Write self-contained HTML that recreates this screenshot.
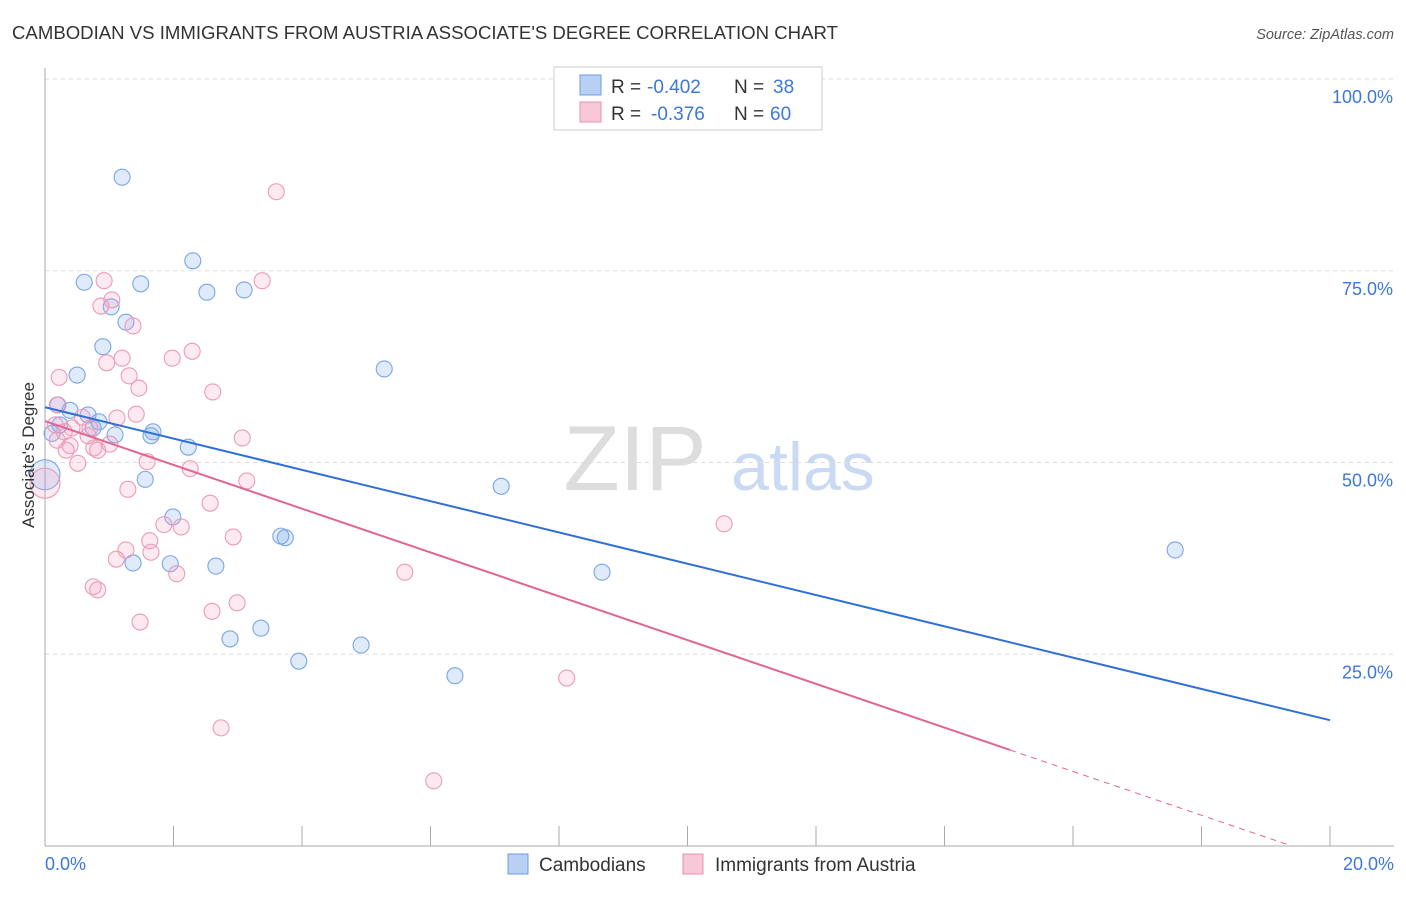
<!DOCTYPE html>
<html><head><meta charset="utf-8">
<style>
body{margin:0;background:#fff;font-family:"Liberation Sans",sans-serif;}
svg text{font-family:"Liberation Sans",sans-serif;}
</style></head>
<body>
<svg id="chart" width="1406" height="892">
<text x="12" y="39" font-size="18.6" fill="#333">CAMBODIAN VS IMMIGRANTS FROM AUSTRIA ASSOCIATE'S DEGREE CORRELATION CHART</text>
<text x="1394" y="39" font-size="14.5" fill="#555" font-style="italic" text-anchor="end">Source: ZipAtlas.com</text>
<text x="635" y="490" font-size="92" fill="#ddd" font-family="Liberation Serif" text-anchor="middle">ZIP</text>
<text x="803" y="490" font-size="68" fill="#c9daf2" text-anchor="middle">atlas</text>
<g id="grid"></g>
<g id="axes"></g>
<g id="marks"></g>
<text transform="translate(34,455) rotate(-90)" font-size="17" fill="#333" text-anchor="middle">Associate's Degree</text>
<g>
<rect x="554" y="67" width="268" height="63" fill="#fff" stroke="#ccc"/>
<rect x="580" y="75" width="21" height="20" fill="#b7d0f3" stroke="#6a9ce0"/>
<text x="611" y="93" font-size="19" fill="#333">R =</text>
<text x="647" y="93" font-size="19" fill="#3b78d8">-0.402</text>
<text x="734" y="93" font-size="19" fill="#333">N =</text>
<text x="773" y="93" font-size="19" fill="#3b78d8">38</text>
<rect x="580" y="102" width="21" height="20" fill="#f8c8d8" stroke="#e890b0"/>
<text x="611" y="120" font-size="19" fill="#333">R =</text>
<text x="651" y="120" font-size="19" fill="#3b78d8">-0.376</text>
<text x="734" y="120" font-size="19" fill="#333">N =</text>
<text x="770" y="120" font-size="19" fill="#3b78d8">60</text>
</g>
<g>
<rect x="508" y="854" width="20" height="20" fill="#b7d0f3" stroke="#6a9ce0"/>
<text x="539" y="871" font-size="19" fill="#333">Cambodians</text>
<rect x="683" y="854" width="20" height="20" fill="#f8c8d8" stroke="#e890b0"/>
<text x="715" y="871" font-size="19" fill="#333">Immigrants from Austria</text>
</g>
</svg>
<script>
const blueX=[1.20,0.61,1.49,2.30,2.52,3.10,1.03,1.26,0.90,0.50,5.28,0.20,0.39,0.67,0.84,0.75,1.09,0.11,1.68,1.65,2.23,1.56,7.10,1.99,3.67,3.74,1.37,1.95,2.66,8.67,17.59,2.88,3.36,3.95,4.92,6.38,0.23];
const blueY=[87.2,73.5,73.3,76.3,72.2,72.5,70.3,68.3,65.1,61.4,62.2,57.5,56.8,56.2,55.3,54.5,53.6,53.8,54.0,53.5,52.0,47.8,46.9,42.9,40.4,40.2,36.9,36.8,36.5,35.7,38.6,27.0,28.4,24.1,26.2,22.2,54.9];
const pinkX=[3.60,0.92,3.38,1.04,0.87,1.37,2.29,1.20,1.98,0.96,0.22,1.31,1.46,2.61,0.19,1.42,1.12,0.58,0.16,0.42,0.70,0.30,0.67,3.07,0.19,1.01,0.39,0.76,0.33,0.82,1.59,0.51,2.26,3.14,1.29,2.57,10.57,1.85,2.12,2.93,1.63,1.26,1.65,1.11,5.60,2.05,0.75,0.82,2.99,2.60,1.48,8.12,2.74,6.05];
const pinkY=[85.3,73.7,73.7,71.2,70.4,67.8,64.5,63.6,63.6,63.0,61.1,61.3,59.7,59.2,57.5,56.3,55.8,55.9,54.9,54.5,54.5,54.0,53.5,53.2,52.9,52.4,52.2,51.9,51.6,51.6,50.1,49.9,49.2,47.6,46.5,44.7,42.0,41.9,41.6,40.3,39.8,38.6,38.3,37.4,35.7,35.5,33.8,33.4,31.7,30.6,29.2,21.9,15.4,8.5];
const bigBlue=[0,48.4];
const bigPink=[0,47.3];
const blueTrend=[57.2,16.4];
const pinkTrend=[55.4,-1.7];
const pinkSolidEnd=15.02;
const yTicks=[25,50,75,100];
const yTickLabels=["25.0%","50.0%","75.0%","100.0%"];
const xTicks=[0,2,4,6,8,10,12,14,16,18,20];

const X0=45,X1=1330,Y0=846,Y100=79;
const sx=v=>X0+(X1-X0)*v/20;
const sy=v=>Y0-(Y0-Y100)*v/100;
const NS="http://www.w3.org/2000/svg";
function mk(tag,attrs,parent){const e=document.createElementNS(NS,tag);for(const k in attrs)e.setAttribute(k,attrs[k]);document.getElementById(parent).appendChild(e);return e;}

yTicks.forEach((t,i)=>{
 const l=mk('line',{x1:X0,x2:1394,y1:sy(t),y2:sy(t),stroke:'#ddd','stroke-dasharray':'4,4'},'grid');
 
 
 const tx=mk('text',{x:1393,y:sy(t)+24,'font-size':18,fill:'#3b78d8','text-anchor':'end'},'grid');
 tx.textContent=yTickLabels[i];
 
 
});
const ya=mk('line',{x1:X0,x2:X0,y1:68,y2:Y0,stroke:'#aaa'},'axes');


const xa=mk('line',{x1:X0,x2:1394,y1:Y0,y2:Y0,stroke:'#aaa'},'axes');


xTicks.forEach(t=>{
 const l=mk('line',{x1:sx(t),x2:sx(t),y1:Y0,y2:Y0-20,stroke:'#aaa'},'axes');
 
 
});
const xl0=mk('text',{x:45,y:870,'font-size':18,fill:'#3b78d8'},'axes');xl0.textContent='0.0%';


const xl1=mk('text',{x:1394,y:870,'font-size':18,fill:'#3b78d8','text-anchor':'end'},'axes');xl1.textContent='20.0%';



function dot(x,y,r,cls){
 return mk('circle',{cx:sx(x),cy:sy(y),r:r,fill:cls==='b'?'rgba(110,160,230,0.22)':'rgba(245,160,190,0.22)',stroke:cls==='b'?'#7aa6e4':'#eb9ab8','stroke-width':1.1},'marks');
}
blueX.forEach((x,i)=>{const c=dot(x,blueY[i],8,'b');
 
 });
pinkX.forEach((x,i)=>{const c=dot(x,pinkY[i],8,'p');
 
 });
const bb=dot(bigBlue[0],bigBlue[1],15,'b');


const bp=dot(bigPink[0],bigPink[1],15,'p');



const bt=mk('line',{x1:sx(0),y1:sy(blueTrend[0]),x2:sx(20),y2:sy(blueTrend[1]),stroke:'#2f6fd6','stroke-width':2},'marks');


const py=x=>pinkTrend[0]+(pinkTrend[1]-pinkTrend[0])*x/20;
const pt=mk('line',{x1:sx(0),y1:sy(pinkTrend[0]),x2:sx(pinkSolidEnd),y2:sy(py(pinkSolidEnd)),stroke:'#e0668f','stroke-width':2},'marks');


const xEnd=Math.min(20,-pinkTrend[0]*20/(pinkTrend[1]-pinkTrend[0]));
const pd=mk('line',{x1:sx(pinkSolidEnd),y1:sy(py(pinkSolidEnd)),x2:sx(xEnd),y2:sy(py(xEnd)),stroke:'#e0668f','stroke-width':1,'stroke-dasharray':'6,5'},'marks');


</script>
</body></html>
